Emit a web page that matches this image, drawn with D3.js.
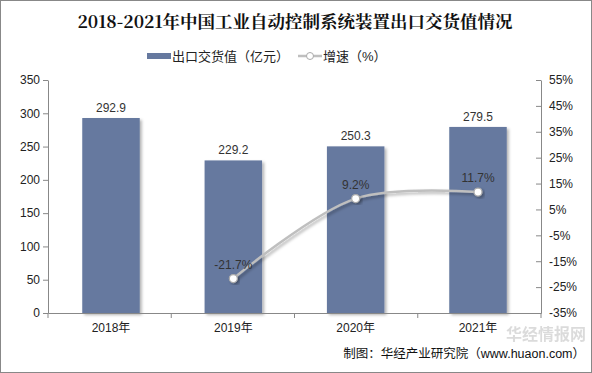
<!DOCTYPE html>
<html>
<head>
<meta charset="utf-8">
<script src="https://cdn.jsdelivr.net/npm/d3@7"></script>
<style>
  body { margin: 0; background: #fff; }
  text { font-family: "Liberation Sans", Arial, "Noto Sans CJK SC", sans-serif; }
</style>
</head>
<body>
<div id="wrapper"></div>
<script>
// data
const years = ["2018年", "2019年", "2020年", "2021年"]
const exportValue = [292.9, 229.2, 250.3, 279.5]
const growthYears = ["2019年", "2020年", "2021年"]
const growthRate = [-21.7, 9.2, 11.7]
const leftTicks = [0, 50, 100, 150, 200, 250, 300, 350]
const rightTicks = [-35, -25, -15, -5, 5, 15, 25, 35, 45, 55]

const dimensions = {
    width: 592,
    height: 373,
    margins: { top: 80, right: 51, bottom: 60, left: 48 }
}
dimensions.boundedWidth = dimensions.width - dimensions.margins.left - dimensions.margins.right
dimensions.boundedHeight = dimensions.height - dimensions.margins.top - dimensions.margins.bottom

const svg = d3.select("#wrapper").append("svg")
    .attr("width", dimensions.width)
    .attr("height", dimensions.height)

const defs = svg.append("defs")
const shadow = defs.append("filter").attr("id", "shadow")
    .attr("x", "-20%").attr("y", "-20%").attr("width", "150%").attr("height", "150%")
shadow.append("feDropShadow").attr("dx", 2).attr("dy", 2).attr("stdDeviation", 1.5)
    .attr("flood-color", "#000").attr("flood-opacity", 0.3)

// outer border
svg.append("rect")
    .attr("x", 0.5).attr("y", 0.5)
    .attr("width", dimensions.width - 1).attr("height", dimensions.height - 1)
    .attr("fill", "#fff").attr("stroke", "#888")

// title
svg.append("text")
    .attr("x", dimensions.width / 2 - 1).attr("y", 28)
    .attr("text-anchor", "middle")
    .style("font-family", "'Noto Serif CJK SC', 'Noto Sans CJK SC', serif")
    .style("font-size", "17.5px").style("font-weight", "bold").attr("fill", "#111")
    .text("2018-2021年中国工业自动控制系统装置出口交货值情况")

const bounds = svg.append("g")
    .attr("transform", `translate(${dimensions.margins.left},${dimensions.margins.top})`)

// scales
const xScale = d3.scaleBand()
    .domain(years)
    .range([0, dimensions.boundedWidth])
    .paddingInner(0.53).paddingOuter(0.28)
const yScale = d3.scaleLinear().domain([0, 350]).range([dimensions.boundedHeight, 0])
const y2Scale = d3.scaleLinear().domain([-35, 55]).range([dimensions.boundedHeight, 0])

// bars
bounds.selectAll(".bar").data(years).join("rect")
    .attr("class", "bar")
    .attr("x", d => xScale(d))
    .attr("width", xScale.bandwidth())
    .attr("y", (d, i) => yScale(exportValue[i]))
    .attr("height", (d, i) => dimensions.boundedHeight - yScale(exportValue[i]))
    .attr("fill", "#66799f")
    .attr("filter", "url(#shadow)")

bounds.selectAll(".bar-label").data(years).join("text")
    .attr("x", d => xScale(d) + xScale.bandwidth() / 2)
    .attr("y", (d, i) => yScale(exportValue[i]) - 6)
    .attr("text-anchor", "middle")
    .style("font-size", "12px").attr("fill", "#333")
    .text((d, i) => exportValue[i].toFixed(1))

// axes
const axisColor = "#888"
const leftAxis = bounds.append("g")
    .call(d3.axisLeft(yScale).tickValues(leftTicks).tickSize(5).tickSizeOuter(0))
const rightAxis = bounds.append("g")
    .attr("transform", `translate(${dimensions.boundedWidth},0)`)
    .call(d3.axisRight(y2Scale).tickValues(rightTicks).tickSize(5).tickSizeOuter(0)
        .tickFormat(d => d + "%"))
rightAxis.selectAll(".tick line").attr("x2", -5)
rightAxis.selectAll(".tick text").attr("x", 8)
const bottomAxis = bounds.append("g")
    .attr("transform", `translate(0,${dimensions.boundedHeight})`)
    .call(d3.axisBottom(xScale).tickSize(0).tickSizeOuter(0).tickPadding(10))

const step = dimensions.boundedWidth / years.length
bottomAxis.selectAll(".boundary").data(d3.range(years.length + 1)).join("line")
    .attr("x1", i => i * step).attr("x2", i => i * step)
    .attr("y1", 0).attr("y2", 5).attr("stroke", axisColor)

for (const ax of [leftAxis, rightAxis, bottomAxis]) {
    ax.select(".domain").attr("stroke", axisColor)
    ax.selectAll(".tick line").attr("stroke", axisColor)
    ax.selectAll(".tick text").style("font-size", "12px").attr("fill", "#222")
        .style("font-family", "'Liberation Sans', Arial, 'Noto Sans CJK SC', sans-serif")
}

// growth line
const lineX = d => xScale(d) + xScale.bandwidth() / 2
const line = d3.line()
    .x(d => lineX(d))
    .y((d, i) => y2Scale(growthRate[i]))
    .curve(d3.curveCatmullRom.alpha(0.5))
bounds.append("path")
    .datum(growthYears)
    .attr("d", line)
    .attr("fill", "none").attr("stroke", "#bfbfbf").attr("stroke-width", 2.5)
    .attr("filter", "url(#shadow)")

bounds.selectAll(".dot").data(growthYears).join("circle")
    .attr("cx", d => lineX(d))
    .attr("cy", (d, i) => y2Scale(growthRate[i]))
    .attr("r", 4)
    .attr("fill", "#fff").attr("stroke", "#aaa").attr("stroke-width", 1.2)
    .attr("filter", "url(#shadow)")

bounds.selectAll(".dot-label").data(growthYears).join("text")
    .attr("x", d => lineX(d))
    .attr("y", (d, i) => y2Scale(growthRate[i]) - 10)
    .attr("text-anchor", "middle")
    .style("font-size", "12px").attr("fill", "#333")
    .text((d, i) => growthRate[i].toFixed(1) + "%")

// legend
const legend = svg.append("g").attr("transform", "translate(0,56)")
legend.append("rect").attr("x", 147).attr("y", -3).attr("width", 24).attr("height", 6).attr("fill", "#66799f")
legend.append("text").attr("x", 172).attr("y", 5)
    .style("font-size", "13px").attr("fill", "#222").text("出口交货值（亿元）")
legend.append("line").attr("x1", 298).attr("x2", 322).attr("y1", 0).attr("y2", 0)
    .attr("stroke", "#bfbfbf").attr("stroke-width", 2.5)
legend.append("circle").attr("cx", 310).attr("cy", 0).attr("r", 3.5)
    .attr("fill", "#fff").attr("stroke", "#aaa")
legend.append("text").attr("x", 323).attr("y", 5)
    .style("font-size", "13px").attr("fill", "#222").text("增速（%）")

// watermark
svg.append("text")
    .attr("x", 506).attr("y", 340)
    .style("font-size", "16px").style("font-weight", "bold")
    .attr("fill", "#999").attr("opacity", 0.35)
    .text("华经情报网")

// source
svg.append("text")
    .attr("x", 585).attr("y", 358).attr("text-anchor", "end")
    .style("font-size", "12.5px").attr("fill", "#111")
    .text("制图：华经产业研究院（www.huaon.com）")
</script>
</body>
</html>
